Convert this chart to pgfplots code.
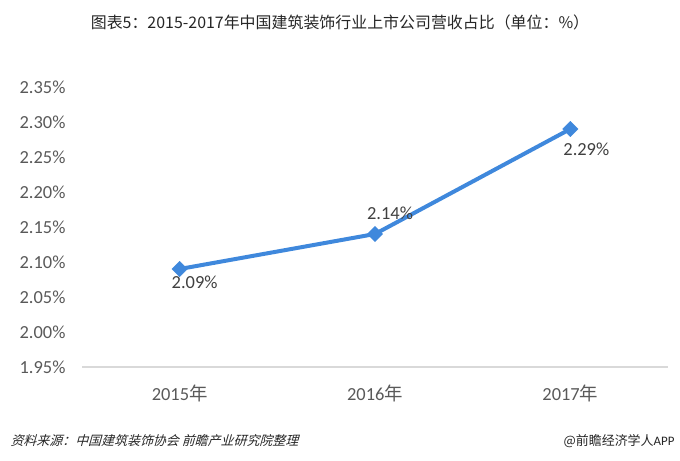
\documentclass[border=0pt]{standalone}
\usepackage{fontspec}
\setmainfont{Carlito}
\newfontfamily\cjk{Noto Sans CJK SC}
\newfontfamily\cjkit[FakeSlant=0.28]{Noto Sans CJK SC}
\usepackage{pgfplots}
\pgfplotsset{compat=1.18}
\definecolor{lineblue}{HTML}{3F88DC}
\definecolor{ticktext}{HTML}{595959}
\definecolor{labeltext}{HTML}{404040}
\definecolor{axisgray}{HTML}{D9D9D9}
\begin{document}
\begin{tikzpicture}
\path[use as bounding box] (0,0) rectangle (680bp,-461bp);

\node[text=black!85, font=\cjk\fontsize{16}{18}\selectfont] at (340bp,-22bp)
  {图表5：2015-2017年中国建筑装饰行业上市公司营收占比（单位：\%）};

\begin{axis}[
    at={(82bp,-367bp)}, anchor=south west,
    scale only axis,
    width=586bp, height=280bp,
    xmin=-0.5, xmax=2.5,
    ymin=1.95, ymax=2.35,
    xtick={0,1,2},
    xticklabels={{2015{\cjk 年}},{2016{\cjk 年}},{2017{\cjk 年}}},
    ytick={1.95,2.00,2.05,2.10,2.15,2.20,2.25,2.30,2.35},
    yticklabel={\pgfmathprintnumber[fixed,fixed zerofill,precision=2]{\tick}\%},
    /pgf/number format/assume math mode=true,
    axis x line=bottom, axis y line=left,
    x axis line style={draw=axisgray, line width=1.2bp, -},
    y axis line style={draw=none},
    major tick length=0pt,
    tick label style={text=ticktext, font=\fontsize{18.5}{20}\selectfont},
    yticklabel style={anchor=east, xshift=-13bp},
    xticklabel style={anchor=north, yshift=-14bp},
    clip=false,
]
\addplot[color=lineblue, line width=4bp, mark=square*,
    mark size=5.4bp, mark options={fill=lineblue, rotate=45, line width=0.5bp}]
coordinates {
    (0, 2.09)
    (1, 2.14)
    (2, 2.29)
};
\node[text=labeltext, font=\fontsize{18.5}{20}\selectfont]
  at (axis cs:0,2.09) [xshift=15bp, yshift=-13bp] {2.09\%};
\node[text=labeltext, font=\fontsize{18.5}{20}\selectfont]
  at (axis cs:1,2.14) [xshift=15bp, yshift=21bp] {2.14\%};
\node[text=labeltext, font=\fontsize{18.5}{20}\selectfont]
  at (axis cs:2,2.29) [xshift=16bp, yshift=-20bp] {2.29\%};
\end{axis}

\node[anchor=west, text=black!85, font=\cjkit\fontsize{13}{15}\selectfont] at (7bp,-441bp)
  {资料来源：中国建筑装饰协会 前瞻产业研究院整理};
\node[anchor=east, text=black!85, font=\cjk\fontsize{13}{15}\selectfont] at (678bp,-441bp)
  {@前瞻经济学人{\rmfamily APP}};
\end{tikzpicture}
\end{document}
